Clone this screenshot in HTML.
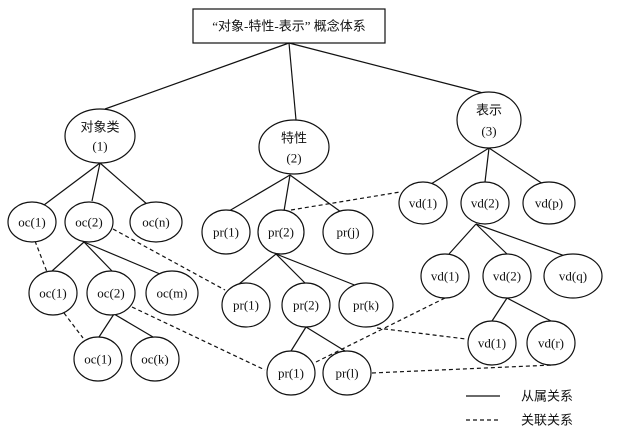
<!DOCTYPE html>
<html><head><meta charset="utf-8"><style>
html,body{margin:0;padding:0;background:#fff;}
svg{display:block;}
text{font-family:"Liberation Serif","Noto Serif CJK SC",serif;font-size:13px;fill:#111;text-anchor:middle;dominant-baseline:central;}
.c{font-family:"Liberation Serif","Noto Sans CJK SC",sans-serif;}
</style></head><body>
<svg width="635" height="440" viewBox="0 0 635 440" xmlns="http://www.w3.org/2000/svg">
<g stroke="#111" stroke-width="1.2" fill="none">
<rect x="193" y="9" width="192" height="34"/>
<!-- root lines -->
<line x1="289" y1="43" x2="105" y2="109"/>
<line x1="289" y1="43" x2="296" y2="120"/>
<line x1="289" y1="43" x2="483" y2="93"/>
<!-- oc -->
<line x1="100" y1="163" x2="44" y2="205"/><line x1="100" y1="163" x2="92" y2="201"/><line x1="100" y1="163" x2="148" y2="205"/>
<line x1="84" y1="242" x2="52" y2="271"/><line x1="84" y1="242" x2="112" y2="271"/><line x1="84" y1="242" x2="160" y2="274"/>
<line x1="114" y1="314" x2="99" y2="337"/><line x1="114" y1="314" x2="153" y2="337"/>
<!-- pr -->
<line x1="290" y1="175" x2="229" y2="211"/><line x1="290" y1="175" x2="284" y2="211"/><line x1="290" y1="175" x2="341" y2="212"/>
<line x1="276" y1="254" x2="239" y2="284"/><line x1="276" y1="254" x2="305" y2="283"/><line x1="276" y1="254" x2="357" y2="286"/>
<line x1="306" y1="327" x2="291" y2="351"/><line x1="306" y1="327" x2="345" y2="351"/>
<!-- vd -->
<line x1="489" y1="148" x2="431" y2="184"/><line x1="489" y1="148" x2="485" y2="182"/><line x1="489" y1="148" x2="543" y2="184"/>
<line x1="476" y1="224" x2="449" y2="254"/><line x1="476" y1="224" x2="507" y2="254"/><line x1="476" y1="224" x2="565" y2="256"/>
<line x1="507" y1="298" x2="492" y2="321"/><line x1="507" y1="298" x2="551" y2="321"/>
<!-- dashed -->
<g stroke-dasharray="4,3">
<line x1="35" y1="241" x2="47" y2="272"/>
<line x1="113" y1="229" x2="225" y2="290"/>
<line x1="64" y1="313" x2="83" y2="338"/>
<line x1="132" y1="307" x2="265" y2="370"/>
<line x1="291" y1="210" x2="400" y2="192"/>
<line x1="445" y1="298" x2="314" y2="363"/>
<line x1="377" y1="328" x2="466" y2="339"/>
<line x1="372" y1="373" x2="553" y2="365"/>
<line x1="466" y1="420" x2="500" y2="420"/>
</g>
<line x1="466" y1="396" x2="500" y2="396"/>
<!-- ellipses -->
<g fill="#fff">
<ellipse cx="100" cy="136" rx="35" ry="27"/>
<ellipse cx="294" cy="147" rx="35" ry="27"/>
<ellipse cx="489" cy="120" rx="32" ry="28"/>
<ellipse cx="32" cy="222" rx="24" ry="20"/>
<ellipse cx="89" cy="222" rx="24" ry="20"/>
<ellipse cx="156" cy="222" rx="26" ry="20"/>
<ellipse cx="53" cy="293" rx="24" ry="22"/>
<ellipse cx="111" cy="293" rx="24" ry="22"/>
<ellipse cx="172" cy="293" rx="26" ry="22"/>
<ellipse cx="98" cy="359" rx="24" ry="22"/>
<ellipse cx="155" cy="359" rx="24" ry="22"/>
<ellipse cx="226" cy="232" rx="24" ry="22"/>
<ellipse cx="281" cy="232" rx="23" ry="22"/>
<ellipse cx="348" cy="232" rx="25" ry="22"/>
<ellipse cx="246" cy="305" rx="24" ry="22"/>
<ellipse cx="306" cy="305" rx="24" ry="22"/>
<ellipse cx="366" cy="305" rx="27" ry="22"/>
<ellipse cx="291" cy="373" rx="24" ry="22"/>
<ellipse cx="347" cy="373" rx="24" ry="22"/>
<ellipse cx="423" cy="203" rx="24" ry="21"/>
<ellipse cx="485" cy="203" rx="24" ry="21"/>
<ellipse cx="549" cy="203" rx="26" ry="21"/>
<ellipse cx="445" cy="276" rx="24" ry="22"/>
<ellipse cx="507" cy="276" rx="24" ry="22"/>
<ellipse cx="573" cy="276" rx="29" ry="22"/>
<ellipse cx="492" cy="343" rx="24" ry="22"/>
<ellipse cx="551" cy="343" rx="24" ry="22"/>
</g>
</g>
<text class="c" x="289" y="26" font-size="14">“对象-特性-表示” 概念体系</text>
<text class="c" x="100" y="127">对象类</text><text x="100" y="146">(1)</text>
<text class="c" x="294" y="138">特性</text><text x="294" y="158">(2)</text>
<text class="c" x="489" y="110">表示</text><text x="489" y="131">(3)</text>
<text x="32" y="222">oc(1)</text><text x="89" y="222">oc(2)</text><text x="156" y="222">oc(n)</text>
<text x="53" y="293">oc(1)</text><text x="111" y="293">oc(2)</text><text x="172" y="293">oc(m)</text>
<text x="98" y="359">oc(1)</text><text x="155" y="359">oc(k)</text>
<text x="226" y="232">pr(1)</text><text x="281" y="232">pr(2)</text><text x="348" y="232">pr(j)</text>
<text x="246" y="305">pr(1)</text><text x="306" y="305">pr(2)</text><text x="366" y="305">pr(k)</text>
<text x="291" y="373">pr(1)</text><text x="347" y="373">pr(l)</text>
<text x="423" y="203">vd(1)</text><text x="485" y="203">vd(2)</text><text x="549" y="203">vd(p)</text>
<text x="445" y="276">vd(1)</text><text x="507" y="276">vd(2)</text><text x="573" y="276">vd(q)</text>
<text x="492" y="343">vd(1)</text><text x="551" y="343">vd(r)</text>
<text class="c" x="547" y="396">从属关系</text>
<text class="c" x="547" y="420">关联关系</text>
</svg>
</body></html>
